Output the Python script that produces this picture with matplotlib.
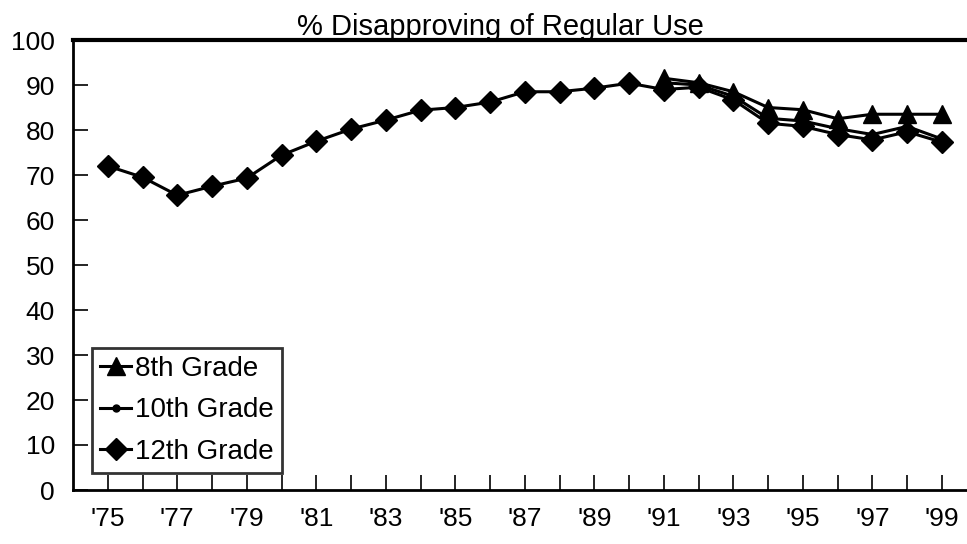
import matplotlib.pyplot as plt

years = list(range(1975, 2000))
years_late = list(range(1991, 2000))
grade8 = [91.5, 90.5, 88.5, 85.0, 84.5, 82.5, 83.5, 83.5, 83.5]
grade10 = [90.5, 90.0, 87.5, 82.6, 82.0, 80.3, 79.0, 80.8, 78.0]
grade12 = [72.0, 69.5, 65.5, 67.5, 69.3, 74.4, 77.5, 80.2, 82.2, 84.4, 85.0, 86.2,
           88.5, 88.5, 89.3, 90.4, 89.0, 89.5, 86.7, 81.5, 80.8, 79.0, 77.8, 79.6, 77.3]
label_years = list(range(1975, 2000, 2))
x_labels = ["'" + str(y)[2:] for y in label_years]
y_ticks = list(range(0, 101, 10))

plt.rcParams['font.family'] = ['Liberation Sans', 'DejaVu Sans']

fig = plt.figure(figsize=(9.67, 5.44), dpi=100)
ax = fig.add_axes([73 / 967, 1 - 490 / 544, 1 - 73 / 967 + 0.01, 450 / 544])

ax.plot(years_late, grade8, color='black', lw=2.2, marker='^', markersize=13,
        label='8th Grade')
ax.plot(years_late, grade10, color='black', lw=2.2, marker='o', markersize=5,
        label='10th Grade')
ax.plot(years, grade12, color='black', lw=2.2, marker='D', markersize=11,
        label='12th Grade')

ax.set_xlim(1974, 2000)
ax.set_ylim(0, 100)
ax.set_xticks(years, minor=True)
ax.set_xticks(label_years)
ax.set_xticklabels(x_labels)
ax.set_yticks(y_ticks)
ax.tick_params(axis='both', direction='in', length=11, width=1.2, labelsize=19)
ax.tick_params(axis='x', which='minor', direction='in', length=11, width=1.2)
ax.tick_params(axis='x', pad=12)
ax.tick_params(axis='y', pad=13)

ax.spines['right'].set_visible(False)
ax.spines['top'].set_linewidth(3)
ax.spines['left'].set_linewidth(2)
ax.spines['bottom'].set_linewidth(2)

leg = ax.legend(loc='lower left', bbox_to_anchor=(0.021, 0.038), fontsize=20,
                frameon=True, fancybox=False, edgecolor='black', handlelength=1.1,
                handletextpad=0.15, borderpad=0.3, labelspacing=0.55, borderaxespad=0)
leg.get_frame().set_linewidth(2)

fig.text(500 / 967, 1 - 27 / 544, '% Disapproving of Regular Use', ha='center',
         va='center', fontsize=21)

fig.savefig('out.png', dpi=100)
